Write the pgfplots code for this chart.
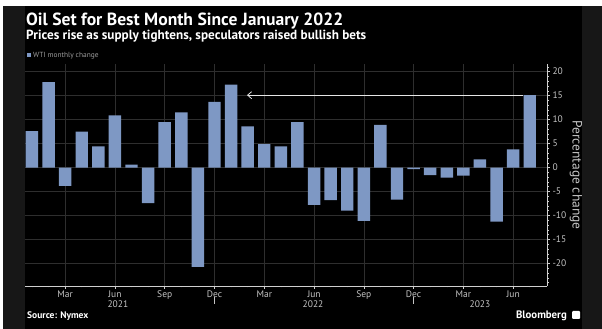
\documentclass[border=0pt]{standalone}
\usepackage{pgfplots}
\pgfplotsset{compat=1.18}
\usepackage{fontspec}
\setmainfont{PT Sans}
\usetikzlibrary{arrows.meta}
\definecolor{framegray}{HTML}{171717}
\definecolor{gridgray}{HTML}{2E2E2E}
\definecolor{axisgray}{HTML}{CFCFCF}
\definecolor{labelgray}{HTML}{C4C4C4}
\definecolor{barblue}{RGB}{126,152,196}
\begin{document}
\begin{tikzpicture}
\useasboundingbox (0pt,0pt) rectangle (602pt,329pt);
\fill[white] (0pt,0pt) rectangle (602pt,329pt);
\fill[framegray] (3pt,0pt) rectangle (602pt,323pt);
\fill[black] (25pt,0pt) rectangle (582pt,323pt);
\node[anchor=base west, inner sep=0, text=white, font=\fontsize{17.6}{17.6}\selectfont\bfseries] at (26pt,303pt) {Oil Set for Best Month Since January 2022};
\node[anchor=base west, inner sep=0, text=white, font=\fontsize{13.2}{13.2}\selectfont\bfseries] at (26pt,289.5pt) {Prices rise as supply tightens, speculators raised bullish bets};
\fill[barblue] (27pt,272pt) rectangle (31pt,276pt);
\node[anchor=base west, inner sep=0, text=labelgray!80!black, font=\fontsize{7.4}{7.4}\selectfont] at (33pt,271.5pt) {WTI monthly change};
\node[anchor=base west, inner sep=0, text=white, font=\fontsize{9.5}{9.5}\selectfont\bfseries] at (27pt,10pt) {Source: Nymex};
\node[anchor=base east, inner sep=0, text=white, font=\fontsize{10.8}{10.8}\selectfont\bfseries] at (567pt,10pt) {Bloomberg};
\fill[white, rounded corners=1pt] (572pt,10pt) rectangle (580pt,18pt);
\node[rotate=-90, text=labelgray, font=\fontsize{13.5}{13.5}\selectfont] at (576pt,154pt) {Percentage change};
\begin{axis}[
  at={(25pt,43pt)}, anchor=south west, scale only axis,
  width=522pt, height=222pt,
  xmin=-0.42, xmax=31.04, ymin=-24.7, ymax=21.6,
  axis x line*=bottom, axis y line*=right,
  axis line style={draw=axisgray, line width=0.6pt, -},
  xtick={2,5,...,29},
  xticklabels={Mar,Jun,Sep,Dec,Mar,Jun,Sep,Dec,Mar,Jun},
  minor xtick={0,...,30},
  ytick={-20,-15,...,20},
  minor ytick={-24,-23,...,21},
  tick style={draw=axisgray, line width=0.5pt},
  major tick length=3pt, minor tick length=1.5pt,
  tick align=outside,
  xmajorgrids, ymajorgrids,
  grid style={draw=gridgray, line width=0.5pt},
  ticklabel style={font=\fontsize{9.5}{9.5}\selectfont, text=labelgray},
  xticklabel style={yshift=2pt},
  yticklabel style={xshift=-1pt},
  /pgf/number format/assume math mode=true,
  clip=false,
]
\addplot[ybar, bar width=0.75, fill=barblue, draw=none] coordinates {
(0,7.6) (1,17.8) (2,-3.8) (3,7.5) (4,4.4) (5,10.9) (6,0.6) (7,-7.4)
(8,9.5) (9,11.5) (10,-20.7) (11,13.7) (12,17.3) (13,8.6) (14,4.9) (15,4.4)
(16,9.5) (17,-7.8) (18,-6.8) (19,-9.0) (20,-11.1) (21,8.9) (22,-6.7) (23,-0.3)
(24,-1.6) (25,-2.1) (26,-1.7) (27,1.7) (28,-11.3) (29,3.8) (30,15.1)
};
\addplot[sharp plot, draw=white!90!black, line width=0.8pt, -{Straight Barb[length=4pt, width=7pt]}] coordinates {(29.58,15.1) (12.96,15.1)};
\node[text=labelgray, font=\fontsize{9.5}{9.5}\selectfont] at (axis cs:5.18,-24.7) [yshift=-18pt] {2021};
\node[text=labelgray, font=\fontsize{9.5}{9.5}\selectfont] at (axis cs:16.94,-24.7) [yshift=-18pt] {2022};
\node[text=labelgray, font=\fontsize{9.5}{9.5}\selectfont] at (axis cs:27.0,-24.7) [yshift=-18pt] {2023};
\draw[labelgray, line width=0.5pt] ([yshift=-11pt]axis cs:11,-24.7) -- ([yshift=-18pt]axis cs:11,-24.7);
\draw[labelgray, line width=0.5pt] ([yshift=-11pt]axis cs:23,-24.7) -- ([yshift=-18pt]axis cs:23,-24.7);
\end{axis}
\end{tikzpicture}
\end{document}
